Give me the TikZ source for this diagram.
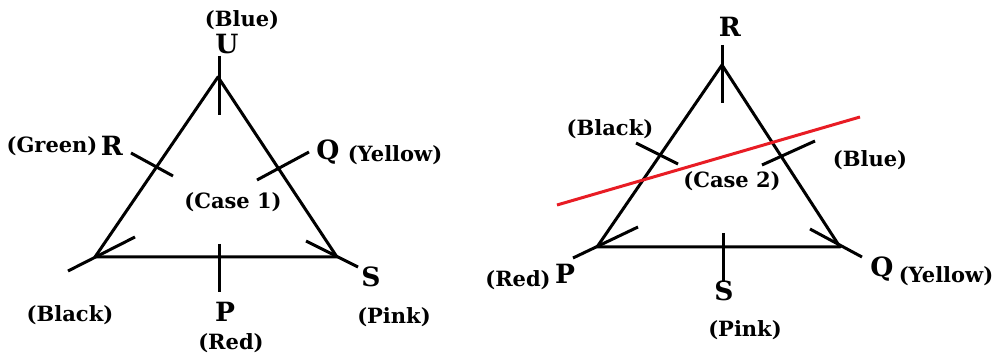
\documentclass[tikz,border=0pt]{standalone}
\usepackage{fontspec}
\setmainfont{DejaVu Serif}
\definecolor{cutred}{RGB}{232,28,36}
\begin{document}
\begin{tikzpicture}[x=1pt,y=-1pt,
  lbl/.style={font=\bfseries\fontsize{21}{22}\selectfont, inner sep=0pt},
  ltr/.style={font=\bfseries\fontsize{26.5}{27}\selectfont, inner sep=0pt},
  side/.style={draw, line width=3pt, line join=round},
  tick/.style={draw, line width=3pt},
  cut/.style={draw=cutred, line width=3pt}]
\useasboundingbox (0,0) rectangle (997,355);
% ---------- Case 1 ----------
\coordinate (A1) at (218,77);
\coordinate (B1) at (95,257);
\coordinate (C1) at (337,257);
\draw[side] (A1) -- (B1) -- (C1) -- cycle;
\coordinate (u1) at (219,56);  \coordinate (u2) at (219,115);
\coordinate (r1) at (131,153); \coordinate (r2) at (173,176);
\coordinate (q1) at (257,180); \coordinate (q2) at (309,152);
\coordinate (k1) at (68,271);  \coordinate (k2) at (135,237);
\coordinate (s1) at (306,241); \coordinate (s2) at (358,267);
\coordinate (p1) at (219,244); \coordinate (p2) at (219,292);
\draw[tick] (u1) -- (u2);
\draw[tick] (r1) -- (r2);
\draw[tick] (q1) -- (q2);
\draw[tick] (k1) -- (k2);
\draw[tick] (s1) -- (s2);
\draw[tick] (p1) -- (p2);
\node[lbl] (blue1) at (242,20) {(Blue)};
\node[ltr] (U1) at (227,44) {U};
\node[lbl] (green1) at (52,146) {(Green)};
\node[ltr] (R1) at (112,146) {R};
\node[ltr] (Q1) at (328,152) {Q};
\node[lbl] (yellow1) at (395,155) {(Yellow)};
\node[lbl] (case1) at (233,202) {(Case 1)};
\node[ltr] (S1) at (371,277) {S};
\node[lbl] (black1) at (70,315) {(Black)};
\node[ltr] (P1) at (225,312) {P};
\node[lbl] (red1) at (231,343) {(Red)};
\node[lbl] (pink1) at (394,317) {(Pink)};
% ---------- Case 2 ----------
\coordinate (A2) at (722,65);
\coordinate (B2) at (597,247);
\coordinate (C2) at (840,247);
\draw[side] (A2) -- (B2) -- (C2) -- cycle;
\coordinate (v1) at (722,45);  \coordinate (v2) at (722,103);
\coordinate (b1) at (636,143); \coordinate (b2) at (678,164);
\coordinate (e1) at (815,141); \coordinate (e2) at (762,165);
\coordinate (f1) at (573,258); \coordinate (f2) at (638,227);
\coordinate (g1) at (810,229); \coordinate (g2) at (862,257);
\coordinate (h1) at (723,233); \coordinate (h2) at (723,282);
\draw[tick] (v1) -- (v2);
\draw[tick] (b1) -- (b2);
\draw[tick] (e1) -- (e2);
\draw[tick] (f1) -- (f2);
\draw[tick] (g1) -- (g2);
\draw[tick] (h1) -- (h2);
\coordinate (c1) at (557,205); \coordinate (c2) at (860,117);
\draw[cut] (c1) -- (c2);
\node[ltr] (R2) at (730,27) {R};
\node[lbl] (black2) at (610,129) {(Black)};
\node[lbl] (blue2) at (870,160) {(Blue)};
\node[lbl] (case2) at (732,181) {(Case 2)};
\node[lbl] (red2) at (518,280) {(Red)};
\node[ltr] (P2) at (565,274) {P};
\node[ltr] (S2) at (724,291) {S};
\node[lbl] (pink2) at (745,330) {(Pink)};
\node[ltr] (Q2) at (882,269) {Q};
\node[lbl] (yellow2) at (946,276) {(Yellow)};
\end{tikzpicture}
\end{document}
